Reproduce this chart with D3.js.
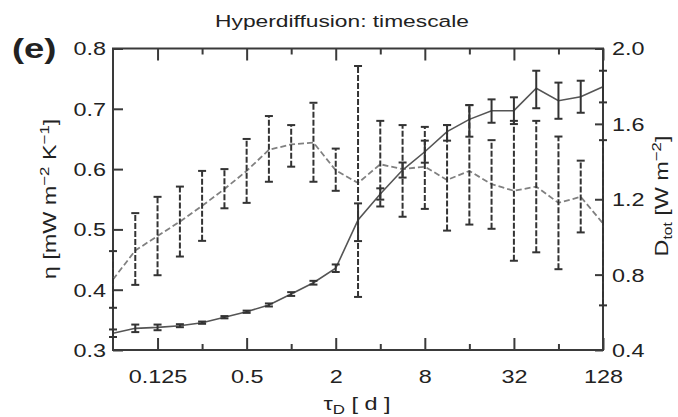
<!DOCTYPE html>
<html lang="en">
<head>
<meta charset="UTF-8">
<title>Hyperdiffusion: timescale</title>
<style>
  body { margin: 0; background: #fff; }
  svg text { font-family: "Liberation Sans", Arial, sans-serif; fill: #222; }
</style>
</head>
<body>
<svg width="678" height="417" id="svg"></svg>
<script src="https://cdn.jsdelivr.net/npm/d3@7"></script>
<script>
// tau_D [d], half-octave steps
const tau = [0.0625, 0.0884, 0.125, 0.177, 0.25, 0.354, 0.5, 0.707, 1, 1.414, 2, 2.83,
             4, 5.66, 8, 11.31, 16, 22.6, 32, 45.3, 64, 90.5, 128]

// eta (left axis), dashed
const eta   = [0.417, 0.465, 0.489, 0.513, 0.539, 0.567, 0.597, 0.632, 0.641, 0.644, 0.598, 0.577,
               0.608, 0.600, 0.604, 0.582, 0.597, 0.575, 0.564, 0.571, 0.544, 0.554, 0.510]
const etaHi = [0.464, 0.527, 0.554, 0.571, 0.597, 0.600, 0.650, 0.688, 0.673, 0.710, 0.634, 0.771,
               0.680, 0.673, 0.670, 0.673, 0.706, 0.648, 0.680, 0.680, 0.654, 0.614, 0.648]
const etaLo = [0.370, 0.408, 0.424, 0.455, 0.481, 0.535, 0.544, 0.579, 0.604, 0.579, 0.564, 0.388,
               0.538, 0.521, 0.534, 0.498, 0.508, 0.501, 0.448, 0.462, 0.434, 0.495, 0.374]

// D_tot (right axis), solid
const dtot   = [0.489, 0.515, 0.520, 0.529, 0.545, 0.574, 0.603, 0.639, 0.697, 0.757, 0.834, 1.090,
                1.228, 1.355, 1.452, 1.559, 1.624, 1.670, 1.670, 1.789, 1.723, 1.744, 1.797]
const dtotHi = [0.509, 0.535, 0.535, 0.537, 0.551, 0.580, 0.609, 0.647, 0.707, 0.767, 0.854, 1.178,
                1.258, 1.395, 1.511, 1.594, 1.700, 1.730, 1.741, 1.882, 1.819, 1.829, 1.882]
const dtotLo = [0.469, 0.495, 0.505, 0.521, 0.539, 0.568, 0.597, 0.631, 0.687, 0.747, 0.814, 0.978,
                1.198, 1.315, 1.394, 1.511, 1.532, 1.606, 1.599, 1.683, 1.627, 1.659, 1.714]

const xMajor = [0.125, 0.5, 2, 8, 32, 128]
const xMinor = [0.25, 1, 4, 16, 64]
const etaTicks = [0.3, 0.4, 0.5, 0.6, 0.7, 0.8]
const dTicks = [0.4, 0.8, 1.2, 1.6, 2.0]

const svg = d3.select("svg#svg")
const plot = { left: 113, right: 603, top: 48.5, bottom: 350 }
const sx = 1.3   // the original font is drawn wide

const x = d3.scaleLog().base(2).domain([1 / 16, 128]).range([plot.left, plot.right])
const yL = d3.scaleLinear().domain([0.3, 0.8]).range([plot.bottom, plot.top])
const yR = d3.scaleLinear().domain([0.4, 2.0]).range([plot.bottom, plot.top])

const axisColor = "#3a3a3a"

function styleAxis(g) {
    g.select(".domain").remove()
    g.selectAll(".tick line").attr("stroke", axisColor).attr("stroke-width", 2)
    g.selectAll("text").attr("font-size", 18).attr("fill", "#222")
}

// bottom
svg.append("g").attr("transform", `translate(0,${plot.bottom})`)
    .call(d3.axisBottom(x).tickValues(xMajor).tickSizeInner(-12).tickSizeOuter(0).tickFormat(d => d))
    .call(styleAxis)
    .call(g => g.selectAll("text").attr("y", null).attr("dy", null)
        .attr("transform", `translate(0,33) scale(${sx},1)`))
svg.append("g").attr("transform", `translate(0,${plot.bottom})`)
    .call(d3.axisBottom(x).tickValues(xMinor).tickSizeInner(-6).tickSizeOuter(0).tickFormat(""))
    .call(styleAxis)
// top
svg.append("g").attr("transform", `translate(0,${plot.top})`)
    .call(d3.axisTop(x).tickValues(xMajor).tickSizeInner(-12).tickSizeOuter(0).tickFormat(""))
    .call(styleAxis)
svg.append("g").attr("transform", `translate(0,${plot.top})`)
    .call(d3.axisTop(x).tickValues(xMinor).tickSizeInner(-6).tickSizeOuter(0).tickFormat(""))
    .call(styleAxis)
// left
svg.append("g").attr("transform", `translate(${plot.left},0)`)
    .call(d3.axisLeft(yL).tickValues(etaTicks).tickSizeInner(-10).tickSizeOuter(0).tickFormat(d3.format(".1f")))
    .call(styleAxis)
    .call(g => g.selectAll("text").attr("x", null).attr("dy", "0.36em")
        .attr("transform", `translate(-7,0) scale(${sx},1)`))
// right
svg.append("g").attr("transform", `translate(${plot.right},0)`)
    .call(d3.axisRight(yR).tickValues(dTicks).tickSizeInner(-8).tickSizeOuter(0).tickFormat(d3.format(".1f")))
    .call(styleAxis)
    .call(g => g.selectAll("text").attr("x", null).attr("dy", "0.36em")
        .attr("transform", `translate(9,0) scale(${sx},1)`))

// frame
svg.append("rect")
    .attr("x", plot.left).attr("y", plot.top)
    .attr("width", plot.right - plot.left).attr("height", plot.bottom - plot.top)
    .attr("fill", "none").attr("stroke", axisColor).attr("stroke-width", 2)

const etaData = tau.map((t, i) => ({ t, v: eta[i], lo: etaLo[i], hi: etaHi[i] }))
const dData = tau.map((t, i) => ({ t, v: dtot[i], lo: dtotLo[i], hi: dtotHi[i] }))

// eta series (dashed)
svg.append("path").datum(etaData)
    .attr("fill", "none").attr("stroke", "#808080").attr("stroke-width", 1.8)
    .attr("stroke-dasharray", "6,3")
    .attr("d", d3.line().x(d => x(d.t)).y(d => yL(d.v)))

// D series (solid)
svg.append("path").datum(dData)
    .attr("fill", "none").attr("stroke", "#555").attr("stroke-width", 1.6)
    .attr("d", d3.line().x(d => x(d.t)).y(d => yR(d.v)))

function errorBars(data, y, dashed) {
    const g = svg.append("g").attr("stroke", "#333").attr("stroke-width", 2)
    g.selectAll("line.bar").data(data).join("line").attr("class", "bar")
        .attr("x1", d => x(d.t)).attr("x2", d => x(d.t))
        .attr("y1", d => y(d.lo)).attr("y2", d => y(d.hi))
        .attr("stroke-dasharray", dashed ? "6,2" : null)
    g.selectAll("line.capHi").data(data).join("line").attr("class", "capHi")
        .attr("x1", d => x(d.t) - 4).attr("x2", d => x(d.t) + 4)
        .attr("y1", d => y(d.hi)).attr("y2", d => y(d.hi))
    g.selectAll("line.capLo").data(data).join("line").attr("class", "capLo")
        .attr("x1", d => x(d.t) - 4).attr("x2", d => x(d.t) + 4)
        .attr("y1", d => y(d.lo)).attr("y2", d => y(d.lo))
}
errorBars(etaData, yL, true)
errorBars(dData, yR, false)

// titles
svg.append("text").attr("text-anchor", "middle").attr("font-size", 17)
    .attr("transform", `translate(342,27) scale(1.34,1)`)
    .text("Hyperdiffusion: timescale")

svg.append("text").attr("font-size", 28).attr("font-weight", "bold")
    .attr("transform", `translate(12,58) scale(${sx},1)`)
    .text("(e)")

const xt = svg.append("text").attr("text-anchor", "middle").attr("font-size", 18)
    .attr("transform", `translate(357,410) scale(${sx},1)`)
xt.append("tspan").text("τ")
xt.append("tspan").attr("font-size", 13).attr("dy", 4).text("D")
xt.append("tspan").attr("dy", -4).text(" [ d ]")

const yt = svg.append("text").attr("text-anchor", "middle").attr("font-size", 18)
    .attr("transform", `translate(56,199) rotate(-90) scale(${sx},1)`)
yt.append("tspan").text("η [mW m")
yt.append("tspan").attr("font-size", 13).attr("dy", -7).text("−2")
yt.append("tspan").attr("dy", 7).text(" K")
yt.append("tspan").attr("font-size", 13).attr("dy", -7).text("−1")
yt.append("tspan").attr("dy", 7).text("]")

const rt = svg.append("text").attr("text-anchor", "middle").attr("font-size", 18)
    .attr("transform", `translate(668,196) rotate(-90) scale(${sx},1)`)
rt.append("tspan").text("D")
rt.append("tspan").attr("font-size", 12).attr("dy", 4).text("tot")
rt.append("tspan").attr("dy", -4).text(" [W m")
rt.append("tspan").attr("font-size", 13).attr("dy", -7).text("−2")
rt.append("tspan").attr("dy", 7).text("]")
</script>
</body>
</html>
